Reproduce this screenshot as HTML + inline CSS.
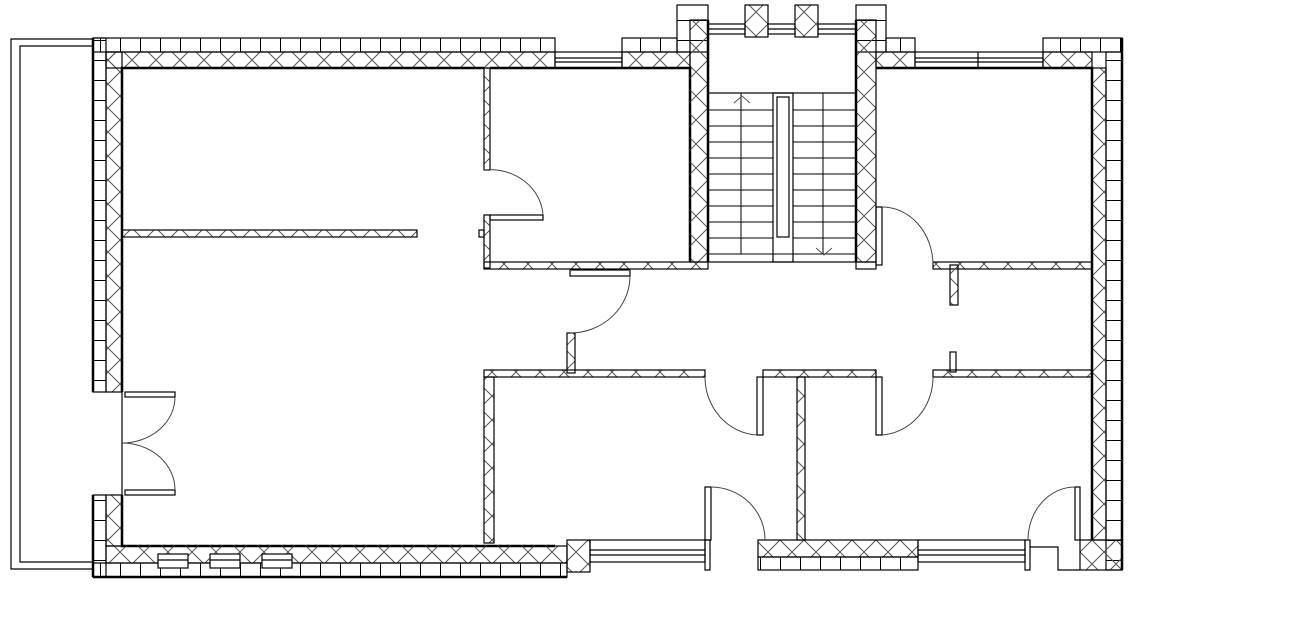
<!DOCTYPE html>
<html><head><meta charset="utf-8"><style>html,body{margin:0;padding:0;background:#fff}svg{display:block}</style></head>
<body>
<svg width="1291" height="621" viewBox="0 0 1291 621" xmlns="http://www.w3.org/2000/svg">
<defs>
<pattern id="hx" patternUnits="userSpaceOnUse" width="24" height="24">
<path d="M0 0L24 24M24 0L0 24" stroke="#555" stroke-width="1" fill="none"/>
</pattern>
<pattern id="bh" patternUnits="userSpaceOnUse" width="20" height="20">
<path d="M0.5 0V20" stroke="#000" stroke-width="1"/>
</pattern>
<pattern id="bv" patternUnits="userSpaceOnUse" width="20" height="20">
<path d="M0 0.5H20" stroke="#000" stroke-width="1"/>
</pattern>
</defs>
<g fill="none" stroke="#000" stroke-width="1.2">
<!-- terrace -->
<polyline points="93,39 11,39 11,569 93,569"/>
<polyline points="93,46 20,46 20,562 93,562"/>

<rect x="93" y="38" width="13" height="354" fill="url(#bv)"/>
<rect x="106" y="52" width="16" height="340" fill="url(#hx)"/>
<rect x="93" y="495" width="13" height="82" fill="url(#bv)"/>
<rect x="106" y="495" width="16" height="51" fill="url(#hx)"/>

<rect x="93" y="38" width="462" height="14" fill="url(#bh)"/>
<rect x="106" y="52" width="449" height="16" fill="url(#hx)"/>
<rect x="555" y="52" width="67" height="16"/>
<line x1="555" y1="58" x2="622" y2="58"/><line x1="555" y1="62" x2="622" y2="62"/>
<rect x="622" y="38" width="55" height="14" fill="url(#bh)"/>
<rect x="622" y="52" width="68" height="16" fill="url(#hx)"/>
<rect x="677" y="5" width="31" height="47" fill="url(#bv)"/>
<rect x="690" y="20" width="18" height="242" fill="url(#hx)"/>
<rect x="856" y="5" width="30" height="47" fill="url(#bv)"/>
<rect x="856" y="20" width="20" height="242" fill="url(#hx)"/>
<rect x="708" y="24" width="37" height="10"/><line x1="708" y1="29" x2="745" y2="29"/>
<rect x="768" y="24" width="27" height="10"/><line x1="768" y1="29" x2="795" y2="29"/>
<rect x="818" y="24" width="38" height="10"/><line x1="818" y1="29" x2="856" y2="29"/>
<rect x="745" y="5" width="23" height="32" fill="url(#hx)"/>
<rect x="795" y="5" width="23" height="32" fill="url(#hx)"/>
<rect x="886" y="38" width="29" height="14" fill="url(#bh)"/>
<rect x="876" y="52" width="39" height="16" fill="url(#hx)"/>
<rect x="915" y="52" width="128" height="16"/>
<line x1="915" y1="58" x2="1043" y2="58"/><line x1="915" y1="62" x2="1043" y2="62"/><line x1="978" y1="52" x2="978" y2="68"/>
<rect x="1043" y="38" width="79" height="14" fill="url(#bh)"/>
<rect x="1043" y="52" width="49" height="16" fill="url(#hx)"/>
<rect x="1106" y="52" width="16" height="518" fill="url(#bv)"/>
<rect x="1092" y="68" width="14" height="472" fill="url(#hx)"/>
<rect x="1080" y="540" width="42" height="30" fill="url(#hx)"/>

<rect x="93" y="563" width="474" height="14" fill="url(#bh)"/>
<rect x="106" y="546" width="461" height="17" fill="url(#hx)"/>
<rect x="158" y="554" width="30" height="14" fill="#fff"/><line x1="158" y1="560" x2="188" y2="560"/>
<rect x="210" y="554" width="30" height="14" fill="#fff"/><line x1="210" y1="560" x2="240" y2="560"/>
<rect x="262" y="554" width="30" height="14" fill="#fff"/><line x1="262" y1="560" x2="292" y2="560"/>
<rect x="567" y="540" width="23" height="32" fill="url(#hx)"/>
<rect x="590" y="540" width="115" height="22"/>
<line x1="590" y1="550" x2="705" y2="550"/><line x1="590" y1="555" x2="705" y2="555"/>
<rect x="705" y="540" width="5" height="30"/>
<rect x="758" y="540" width="160" height="17" fill="url(#hx)"/>
<rect x="758" y="557" width="160" height="13" fill="url(#bh)"/>
<rect x="918" y="540" width="107" height="22"/>
<line x1="918" y1="550" x2="1025" y2="550"/><line x1="918" y1="555" x2="1025" y2="555"/>
<rect x="1025" y="540" width="5" height="30"/>
<polyline points="1030,547 1058,547 1058,570 1080,570"/>

<rect x="122" y="230" width="295" height="7" fill="url(#hx)"/>
<rect x="484" y="68" width="6" height="102" fill="url(#hx)"/>
<rect x="484" y="215" width="6" height="53" fill="url(#hx)"/>
<rect x="479" y="230" width="5" height="7"/>
<rect x="484" y="262" width="224" height="7" fill="url(#hx)"/>
<rect x="856" y="262" width="20" height="7"/>
<rect x="876" y="207" width="6" height="58"/>
<rect x="933" y="262" width="159" height="7" fill="url(#hx)"/>
<rect x="950" y="265" width="8" height="40" fill="url(#hx)"/>
<rect x="950" y="352" width="6" height="20"/>
<rect x="567" y="333" width="8" height="40" fill="url(#hx)"/>
<rect x="484" y="370" width="221" height="7" fill="url(#hx)"/>
<rect x="763" y="370" width="113" height="7" fill="url(#hx)"/>
<rect x="933" y="370" width="159" height="7" fill="url(#hx)"/>
<rect x="484" y="377" width="10" height="166" fill="url(#hx)"/>
<rect x="797" y="377" width="8" height="163" fill="url(#hx)"/>
<rect x="757" y="377" width="6" height="58"/>
<rect x="876" y="377" width="6" height="58"/>

<rect x="490" y="215" width="53" height="5"/>
<path d="M484 170 A53 48 0 0 1 543 215" stroke="#444" stroke-width="1"/>
<rect x="570" y="270" width="60" height="6"/>
<path d="M630 276 A60 57 0 0 1 570 333" stroke="#444" stroke-width="1"/>
<path d="M882 207 A51 58 0 0 1 933 265" stroke="#444" stroke-width="1"/>
<path d="M705 377 A55 58 0 0 0 757 435" stroke="#444" stroke-width="1"/>
<path d="M933 377 A55 58 0 0 1 882 435" stroke="#444" stroke-width="1"/>
<rect x="705" y="487" width="6" height="53"/>
<path d="M711 487 A54 53 0 0 1 765 540" stroke="#444" stroke-width="1"/>
<rect x="1075" y="487" width="5" height="53"/>
<path d="M1075 487 A47 53 0 0 0 1028 540" stroke="#444" stroke-width="1"/>
<rect x="125" y="392" width="50" height="5"/>
<path d="M175 397 A53 46 0 0 1 122 443" stroke="#444" stroke-width="1"/>
<rect x="125" y="490" width="50" height="5"/>
<path d="M122 443 A53 47 0 0 1 175 490" stroke="#444" stroke-width="1"/>
<line x1="122" y1="392" x2="122" y2="495"/>

<rect x="708" y="93" width="148" height="169"/>
<rect x="773" y="93" width="20" height="169"/>
<rect x="777" y="97" width="12" height="140"/>
<g stroke-width="1">
<line x1="708" y1="110" x2="773" y2="110"/><line x1="793" y1="110" x2="856" y2="110"/>
<line x1="708" y1="126" x2="773" y2="126"/><line x1="793" y1="126" x2="856" y2="126"/>
<line x1="708" y1="142" x2="773" y2="142"/><line x1="793" y1="142" x2="856" y2="142"/>
<line x1="708" y1="158" x2="773" y2="158"/><line x1="793" y1="158" x2="856" y2="158"/>
<line x1="708" y1="174" x2="773" y2="174"/><line x1="793" y1="174" x2="856" y2="174"/>
<line x1="708" y1="190" x2="773" y2="190"/><line x1="793" y1="190" x2="856" y2="190"/>
<line x1="708" y1="206" x2="773" y2="206"/><line x1="793" y1="206" x2="856" y2="206"/>
<line x1="708" y1="222" x2="773" y2="222"/><line x1="793" y1="222" x2="856" y2="222"/>
<line x1="708" y1="238" x2="773" y2="238"/><line x1="793" y1="238" x2="856" y2="238"/>
<line x1="708" y1="254" x2="856" y2="254"/>
<line x1="741" y1="93" x2="741" y2="254"/><line x1="823" y1="93" x2="823" y2="254"/>
<path d="M734 103 L742 96 L750 103" stroke="#555"/>
<path d="M816 248 L824 255 L832 248" stroke="#555"/>
</g>

<g stroke-width="2.5">
<polyline points="122,392 122,68 484,68"/>
<polyline points="490,68 690,68 690,262"/>
<polyline points="876,68 1092,68 1092,540"/>
<polyline points="122,495 122,546 555,546"/>
<polyline points="708,20 708,262"/>
<polyline points="856,20 856,262"/>
<line x1="93" y1="38" x2="93" y2="392"/>
<line x1="93" y1="495" x2="93" y2="577"/>
<line x1="93" y1="577" x2="567" y2="577"/>
<line x1="1122" y1="38" x2="1122" y2="570"/>
</g>
</g>
</svg>
</body></html>
